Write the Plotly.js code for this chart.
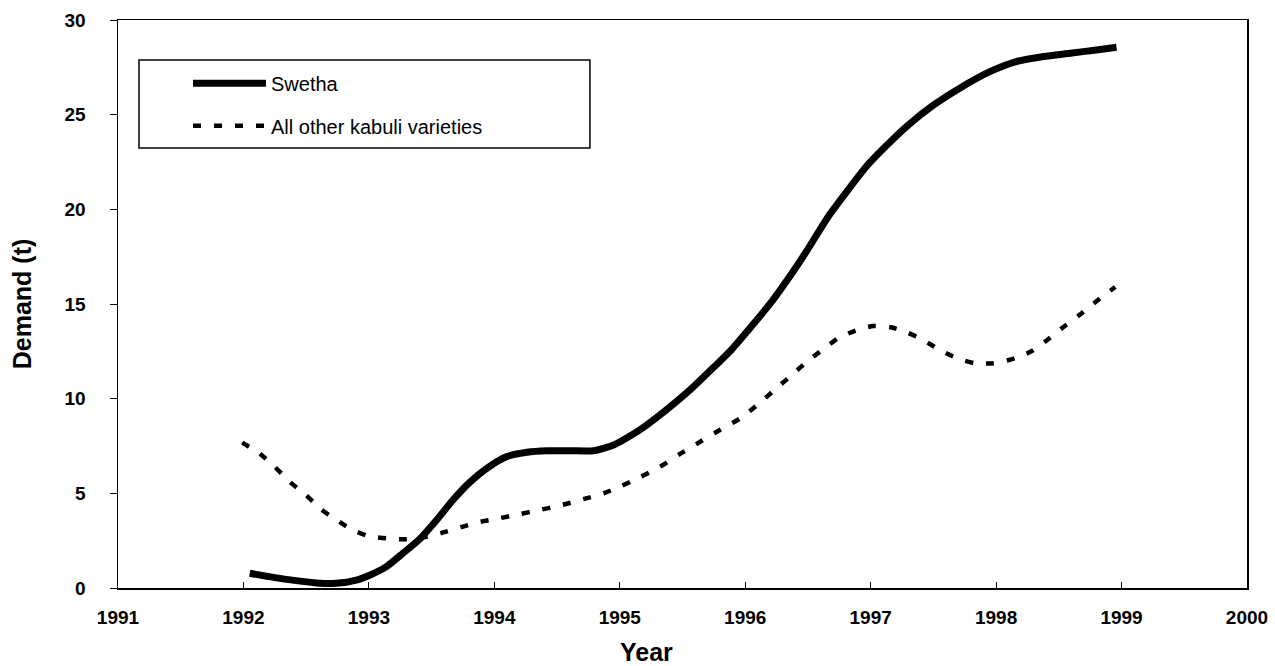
<!DOCTYPE html>
<html>
<head>
<meta charset="utf-8">
<script src="https://cdn.plot.ly/plotly-3.0.1.min.js"></script>
<style>
  html, body { margin: 0; padding: 0; background: #ffffff; }
  #chart { width: 1275px; height: 666px; }
</style>
</head>
<body>
<div id="chart"></div>
<script>
// Swetha demand (t)
const swethaYears = [1992.05, 1992.24, 1992.42, 1992.61, 1992.74, 1992.9, 1993.01, 1993.14, 1993.27, 1993.41,
  1993.54, 1993.67, 1993.81, 1993.94, 1994.1, 1994.26, 1994.42, 1994.6, 1994.79, 1994.95,
  1995.16, 1995.37, 1995.56, 1995.74, 1995.9, 1996.06, 1996.22, 1996.36, 1996.49, 1996.66,
  1996.84, 1996.97, 1997.1, 1997.29, 1997.5, 1997.71, 1997.95, 1998.16, 1998.38, 1998.59,
  1998.8, 1998.96];
const swethaValues = [0.78, 0.56, 0.39, 0.25, 0.25, 0.42, 0.69, 1.13, 1.83, 2.62,
  3.59, 4.65, 5.62, 6.32, 6.94, 7.17, 7.25, 7.25, 7.25, 7.55,
  8.35, 9.4, 10.46, 11.6, 12.66, 13.9, 15.2, 16.5, 17.8, 19.6,
  21.2, 22.3, 23.2, 24.4, 25.5, 26.4, 27.27, 27.8, 28.07, 28.24,
  28.42, 28.56];

// All other kabuli varieties demand (t)
const otherYears = [1991.99, 1992.13, 1992.25, 1992.37, 1992.5, 1992.61, 1992.74, 1992.86, 1992.99, 1993.14,
  1993.27, 1993.42, 1993.57, 1993.73, 1993.89, 1994.0, 1994.2, 1994.36, 1994.52, 1994.71,
  1994.87, 1995.0, 1995.16, 1995.32, 1995.48, 1995.61, 1995.76, 1995.96, 1996.12, 1996.24,
  1996.38, 1996.5, 1996.62, 1996.74, 1996.88, 1997.02, 1997.16, 1997.29, 1997.42, 1997.55,
  1997.69, 1997.83, 1997.98, 1998.15, 1998.28, 1998.4, 1998.52, 1998.66, 1998.81, 1998.95];
const otherValues = [7.68, 7.1, 6.4, 5.6, 4.9, 4.2, 3.6, 3.1, 2.76, 2.62,
  2.57, 2.65, 2.89, 3.2, 3.5, 3.63, 3.9, 4.12, 4.35, 4.69,
  5.0, 5.35, 5.85, 6.4, 7.08, 7.6, 8.2, 8.96, 9.8, 10.5,
  11.3, 12.0, 12.6, 13.19, 13.6, 13.84, 13.77, 13.5, 13.1, 12.57,
  12.13, 11.87, 11.87, 12.13, 12.5, 13.06, 13.7, 14.4, 15.2, 15.9];

const xTickVals = [1991, 1992, 1993, 1994, 1995, 1996, 1997, 1998, 1999, 2000];
const xTickText = ['1991', '1992', '1993', '1994', '1995', '1996', '1997', '1998', '1999', '2000'];
const yTickVals = [0, 5, 10, 15, 20, 25, 30];
const yTickText = ['0', '5', '10', '15', '20', '25', '30'];

const seriesNames = ['Swetha', 'All other kabuli varieties'];

const FONT = 'Liberation Sans, Arial, Helvetica, sans-serif';

const traces = [
  {
    x: swethaYears, y: swethaValues, name: seriesNames[0],
    type: 'scatter', mode: 'lines',
    line: { color: '#000000', width: 7, shape: 'spline', smoothing: 0.6 },
    legend: 'legend'
  },
  {
    x: otherYears, y: otherValues, name: seriesNames[1],
    type: 'scatter', mode: 'lines',
    line: { color: '#000000', width: 4.5, dash: '8px,13px', shape: 'spline', smoothing: 0.6 },
    legend: 'legend2'
  }
];

const legendCommon = {
  xref: 'paper', yref: 'paper', xanchor: 'left', yanchor: 'top',
  bgcolor: 'rgba(0,0,0,0)', borderwidth: 0,
  font: { family: FONT, size: 20, color: '#000000' },
  itemwidth: 73, itemclick: false, itemdoubleclick: false
};

const layout = {
  width: 1275, height: 666,
  margin: { l: 118, r: 28, t: 20, b: 78 },
  paper_bgcolor: '#ffffff', plot_bgcolor: '#ffffff',
  font: { family: FONT, color: '#000000' },
  showlegend: true,
  legend: Object.assign({}, legendCommon, { x: 0.062, y: 0.923 }),
  legend2: Object.assign({}, legendCommon, { x: 0.062, y: 0.848 }),
  xaxis: {
    range: [1991, 2000],
    tickmode: 'array', tickvals: xTickVals, ticktext: xTickText,
    ticks: 'inside', ticklen: 6, tickwidth: 1, tickcolor: '#000000',
    ticklabelstandoff: 12,
    showgrid: false, zeroline: false,
    showline: true, linecolor: '#000000', linewidth: 1.5, mirror: true,
    tickfont: { family: FONT, size: 19, color: '#000000', weight: 'bold' },
    title: { text: '' }
  },
  yaxis: {
    range: [0, 30],
    tickmode: 'array', tickvals: yTickVals, ticktext: yTickText,
    ticks: 'outside', ticklen: 7, tickwidth: 1, tickcolor: '#000000',
    ticklabelstandoff: 20,
    showgrid: false, zeroline: false,
    showline: true, linecolor: '#000000', linewidth: 1.5, mirror: true,
    tickfont: { family: FONT, size: 19, color: '#000000', weight: 'bold' },
    title: { text: '<b>Demand (t)</b>', font: { family: FONT, size: 25, color: '#000000' }, standoff: 26 }
  },
  annotations: [
    {
      text: '<b>Year</b>', xref: 'paper', yref: 'paper', x: 0.468, y: -0.112,
      xanchor: 'center', yanchor: 'middle', showarrow: false,
      font: { family: FONT, size: 25, color: '#000000' }
    }
  ],
  shapes: [
    {
      type: 'rect', xref: 'paper', yref: 'paper',
      x0: 0.0186, x1: 0.418, y0: 0.7746, y1: 0.9296,
      line: { color: '#000000', width: 1.5 }, fillcolor: 'rgba(0,0,0,0)'
    }
  ]
};

Plotly.newPlot('chart', traces, layout, { staticPlot: true, displayModeBar: false });
</script>
</body>
</html>
